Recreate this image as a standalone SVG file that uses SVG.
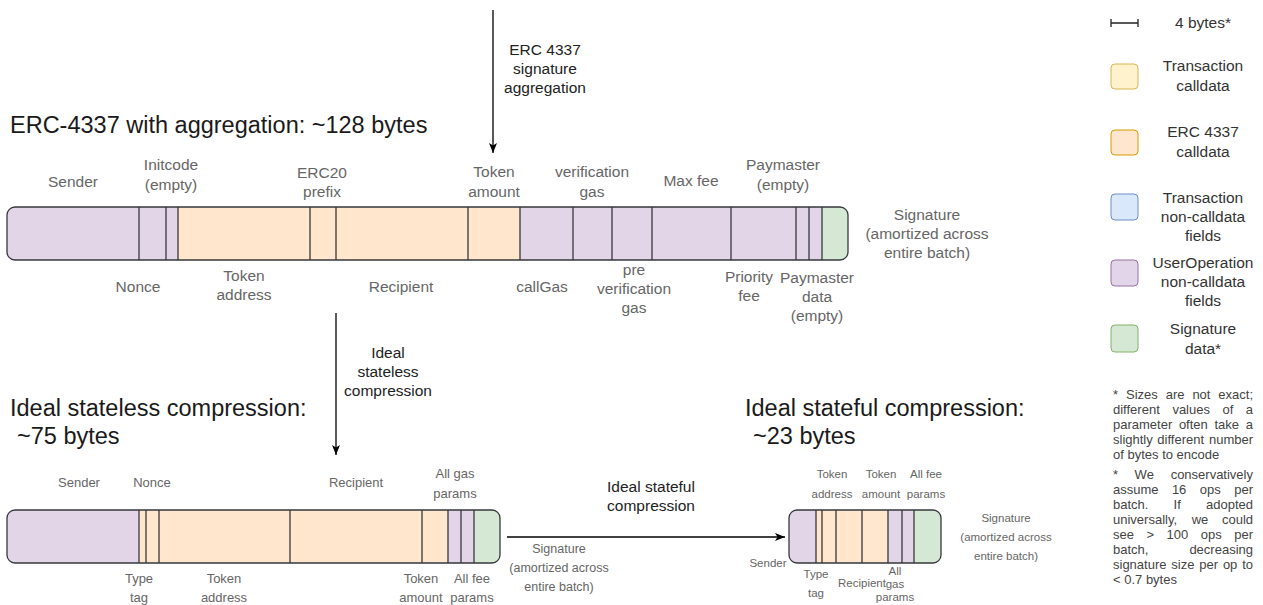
<svg xmlns="http://www.w3.org/2000/svg" width="1263" height="605" viewBox="0 0 1263 605">
<style>
text{font-family:"Liberation Sans",Arial,Helvetica,sans-serif}
.t{font-size:23.5px;fill:#1a1a1a}
.l{font-size:15.5px;fill:#666;text-anchor:middle}
.m{font-size:13px;fill:#666;text-anchor:middle}
.s{font-size:11.5px;fill:#666;text-anchor:middle}
.a{font-size:15.5px;fill:#222;text-anchor:middle}
.g{font-size:15.5px;fill:#333;text-anchor:middle}
.n{font-size:13px;fill:#444}
.e{text-anchor:end}
.pu{fill:#e1d5e7}.or{fill:#ffe6cc}.gr{fill:#d5e8d4}
.out{fill:none;stroke:#36393d;stroke-width:1.3}
.div{stroke:#36393d;stroke-width:1.3}
.conn{stroke:#000;stroke-width:1.3;fill:none}
</style>
<defs>
<marker id="ah" viewBox="0 0 10 10" refX="10" refY="5" markerWidth="10" markerHeight="10" markerUnits="userSpaceOnUse" orient="auto"><path d="M0,1 L10,5 L0,9 L2.5,5 z" fill="#000"/></marker>
<clipPath id="c1"><rect x="7" y="207" width="841" height="53" rx="8"/></clipPath>
<clipPath id="c2"><rect x="7" y="510" width="493" height="53" rx="8"/></clipPath>
<clipPath id="c3"><rect x="789" y="510" width="152" height="53" rx="8"/></clipPath>
</defs>
<rect width="1263" height="605" fill="#fff"/>

<text class="t" x="10" y="133">ERC-4337 with aggregation: ~128 bytes</text>
<text class="t" x="10" y="416">Ideal stateless compression:</text>
<text class="t" x="17" y="444">~75 bytes</text>
<text class="t" x="745" y="416">Ideal stateful compression:</text>
<text class="t" x="753" y="444">~23 bytes</text>

<g id="connectors">
<line class="conn" x1="493" y1="10" x2="493" y2="153" marker-end="url(#ah)"/>
<line class="conn" x1="336" y1="313" x2="336" y2="455" marker-end="url(#ah)"/>
<line class="conn" x1="507" y1="537" x2="785" y2="537" marker-end="url(#ah)"/>
<text class="a" x="545" y="55">ERC 4337</text>
<text class="a" x="545" y="74">signature</text>
<text class="a" x="545" y="93">aggregation</text>
<text class="a" x="388" y="358">Ideal</text>
<text class="a" x="388" y="377">stateless</text>
<text class="a" x="388" y="396">compression</text>
<text class="a" x="651" y="492">Ideal stateful</text>
<text class="a" x="651" y="511">compression</text>
</g>

<g id="bar-aggregation">
<g clip-path="url(#c1)">
<rect class="pu" x="7" y="207" width="171" height="53"/>
<rect class="or" x="178" y="207" width="342" height="53"/>
<rect class="pu" x="520" y="207" width="302" height="53"/>
<rect class="gr" x="822" y="207" width="26" height="53"/>
</g>
<path class="div" d="M139,207V260M166,207V260M178,207V260M310,207V260M336,207V260M468,207V260M520,207V260M573,207V260M612,207V260M652,207V260M731,207V260M796,207V260M809,207V260M822,207V260"/>
<rect class="out" x="7" y="207" width="841" height="53" rx="8"/>
<text class="l" x="73" y="187">Sender</text>
<text class="l" x="171" y="170">Initcode</text>
<text class="l" x="171" y="190">(empty)</text>
<text class="l" x="322" y="178">ERC20</text>
<text class="l" x="322" y="197">prefix</text>
<text class="l" x="494" y="177">Token</text>
<text class="l" x="494" y="197">amount</text>
<text class="l" x="592" y="177">verification</text>
<text class="l" x="592" y="197">gas</text>
<text class="l" x="691" y="186">Max fee</text>
<text class="l" x="783" y="170">Paymaster</text>
<text class="l" x="783" y="190">(empty)</text>
<text class="l" x="138" y="292">Nonce</text>
<text class="l" x="244" y="281">Token</text>
<text class="l" x="244" y="300">address</text>
<text class="l" x="401" y="292">Recipient</text>
<text class="l" x="542" y="292">callGas</text>
<text class="l" x="634" y="275">pre</text>
<text class="l" x="634" y="294">verification</text>
<text class="l" x="634" y="313">gas</text>
<text class="l" x="749" y="282">Priority</text>
<text class="l" x="749" y="301">fee</text>
<text class="l" x="817" y="283">Paymaster</text>
<text class="l" x="817" y="302">data</text>
<text class="l" x="817" y="321">(empty)</text>
<text class="l" x="927" y="220">Signature</text>
<text class="l" x="927" y="239">(amortized across</text>
<text class="l" x="927" y="258">entire batch)</text>
</g>

<g id="bar-stateless">
<g clip-path="url(#c2)">
<rect class="pu" x="7" y="510" width="132" height="53"/>
<rect class="or" x="139" y="510" width="309" height="53"/>
<rect class="pu" x="448" y="510" width="26" height="53"/>
<rect class="gr" x="474" y="510" width="26" height="53"/>
</g>
<path class="div" d="M139,510V563M146,510V563M159,510V563M290,510V563M422,510V563M448,510V563M461,510V563M474,510V563"/>
<rect class="out" x="7" y="510" width="493" height="53" rx="8"/>
<text class="m" x="79" y="487">Sender</text>
<text class="m" x="152" y="487">Nonce</text>
<text class="m" x="356" y="487">Recipient</text>
<text class="m" x="455" y="478">All gas</text>
<text class="m" x="455" y="498">params</text>
<text class="m" x="139" y="583">Type</text>
<text class="m" x="139" y="602">tag</text>
<text class="m" x="224" y="583">Token</text>
<text class="m" x="224" y="602">address</text>
<text class="m" x="421" y="583">Token</text>
<text class="m" x="421" y="602">amount</text>
<text class="m" x="472" y="583">All fee</text>
<text class="m" x="472" y="602">params</text>
<text class="m" x="559" y="553" style="font-size:12.5px">Signature</text>
<text class="m" x="559" y="572" style="font-size:12.5px">(amortized across</text>
<text class="m" x="559" y="591" style="font-size:12.5px">entire batch)</text>
</g>

<g id="bar-stateful">
<g clip-path="url(#c3)">
<rect class="pu" x="789" y="510" width="27" height="53"/>
<rect class="or" x="816" y="510" width="72" height="53"/>
<rect class="pu" x="888" y="510" width="26" height="53"/>
<rect class="gr" x="914" y="510" width="27" height="53"/>
</g>
<path class="div" d="M816,510V563M822,510V563M836,510V563M862,510V563M888,510V563M902,510V563M914,510V563"/>
<rect class="out" x="789" y="510" width="152" height="53" rx="8"/>
<text class="s" x="832" y="478">Token</text>
<text class="s" x="832" y="498">address</text>
<text class="s" x="881" y="478">Token</text>
<text class="s" x="881" y="498">amount</text>
<text class="s" x="926" y="478">All fee</text>
<text class="s" x="926" y="498">params</text>
<text class="s" x="768" y="567">Sender</text>
<text class="s" x="816" y="578">Type</text>
<text class="s" x="816" y="597">tag</text>
<text class="s" x="862" y="587">Recipient</text>
<text class="s" x="895" y="575">All</text>
<text class="s" x="895" y="588">gas</text>
<text class="s" x="895" y="601">params</text>
<text class="s" x="1006" y="522">Signature</text>
<text class="s" x="1006" y="541">(amortized across</text>
<text class="s" x="1006" y="560">entire batch)</text>
</g>

<g id="legend">
<path d="M1111,23H1138M1111,19V27M1138,19V27" stroke="#222" stroke-width="1.3" fill="none"/>
<text class="g" x="1203" y="28">4 bytes*</text>
<rect x="1111" y="64" width="27" height="25" rx="4" fill="#fff2cc" stroke="#d6b656"/>
<text class="g" x="1203" y="71">Transaction</text>
<text class="g" x="1203" y="91">calldata</text>
<rect x="1111" y="130" width="27" height="25" rx="4" fill="#ffe6cc" stroke="#d79b00"/>
<text class="g" x="1203" y="137">ERC 4337</text>
<text class="g" x="1203" y="157">calldata</text>
<rect x="1111" y="194" width="27" height="26" rx="4" fill="#dae8fc" stroke="#6c8ebf"/>
<text class="g" x="1203" y="203">Transaction</text>
<text class="g" x="1203" y="222">non-calldata</text>
<text class="g" x="1203" y="241">fields</text>
<rect x="1111" y="260" width="27" height="26" rx="4" fill="#e1d5e7" stroke="#9673a6"/>
<text class="g" x="1203" y="268">UserOperation</text>
<text class="g" x="1203" y="287">non-calldata</text>
<text class="g" x="1203" y="306">fields</text>
<rect x="1111" y="325" width="27" height="27" rx="4" fill="#d5e8d4" stroke="#82b366"/>
<text class="g" x="1203" y="334">Signature</text>
<text class="g" x="1203" y="354">data*</text>
</g>

<g id="notes">
<text class="n" x="1113" y="399">*</text><text class="n" x="1126" y="399">Sizes</text><text class="n" x="1165.7" y="399">are</text><text class="n" x="1192.4" y="399">not</text><text class="n e" x="1253" y="399">exact;</text>
<text class="n" x="1113" y="414">different</text><text class="n" x="1172.4" y="414">values</text><text class="n" x="1222.5" y="414">of</text><text class="n e" x="1253" y="414">a</text>
<text class="n" x="1113" y="429">parameter</text><text class="n" x="1178.9" y="429">often</text><text class="n" x="1214.5" y="429">take</text><text class="n e" x="1253" y="429">a</text>
<text class="n" x="1113" y="444">slightly</text><text class="n" x="1157.3" y="444">different</text><text class="n e" x="1253" y="444">number</text>
<text class="n" x="1113" y="459">of bytes to encode</text>
<text class="n" x="1113" y="479">*</text><text class="n" x="1134.6" y="479">We</text><text class="n e" x="1253" y="479">conservatively</text>
<text class="n" x="1113" y="494">assume</text><text class="n" x="1171.9" y="494">16</text><text class="n" x="1199.8" y="494">ops</text><text class="n e" x="1253" y="494">per</text>
<text class="n" x="1113" y="509">batch.</text><text class="n" x="1173.6" y="509">If</text><text class="n e" x="1253" y="509">adopted</text>
<text class="n" x="1113" y="524">universally,</text><text class="n" x="1191.7" y="524">we</text><text class="n e" x="1253" y="524">could</text>
<text class="n" x="1113" y="539">see</text><text class="n" x="1146.5" y="539">&gt;</text><text class="n" x="1166.6" y="539">100</text><text class="n" x="1200.8" y="539">ops</text><text class="n e" x="1253" y="539">per</text>
<text class="n" x="1113" y="554">batch,</text><text class="n e" x="1253" y="554">decreasing</text>
<text class="n" x="1113" y="569">signature</text><text class="n" x="1171.3" y="569">size</text><text class="n" x="1199.3" y="569">per</text><text class="n" x="1222.9" y="569">op</text><text class="n e" x="1253" y="569">to</text>
<text class="n" x="1113" y="584">&lt; 0.7 bytes</text>
</g>
</svg>
